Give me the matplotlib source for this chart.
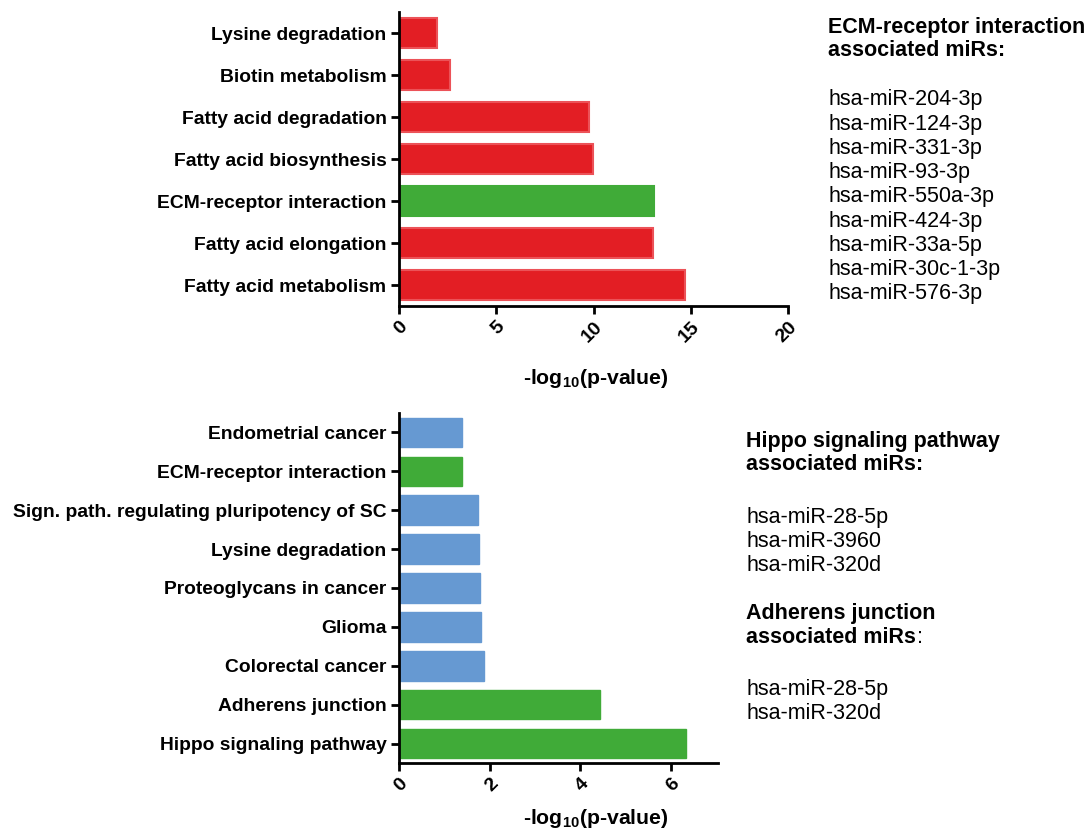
import matplotlib
matplotlib.use("Agg")
import matplotlib.pyplot as plt

plt.rcParams['font.family'] = ['Liberation Sans', 'DejaVu Sans']
plt.rcParams['mathtext.fontset'] = 'custom'
plt.rcParams['mathtext.rm'] = 'Liberation Sans:bold'
plt.rcParams['mathtext.bf'] = 'Liberation Sans:bold'
plt.rcParams['mathtext.it'] = 'Liberation Sans:bold'

RED = '#E31E24'
RED_EDGE = '#EC5258'
GREEN = '#40AB38'
BLUE = '#6699D2'

# Top panel (listed top to bottom)
top_categories = ["Lysine degradation", "Biotin metabolism", "Fatty acid degradation",
                  "Fatty acid biosynthesis", "ECM-receptor interaction",
                  "Fatty acid elongation", "Fatty acid metabolism"]
top_values = [1.93, 2.61, 9.75, 9.99, 13.1, 13.08, 14.68]
top_groups = ["other", "other", "other", "other", "ecm", "other", "other"]

# Bottom panel (listed top to bottom)
bot_categories = ["Endometrial cancer", "ECM-receptor interaction",
                  "Sign. path. regulating pluripotency of SC", "Lysine degradation",
                  "Proteoglycans in cancer", "Glioma", "Colorectal cancer",
                  "Adherens junction", "Hippo signaling pathway"]
bot_values = [1.39, 1.39, 1.75, 1.76, 1.78, 1.81, 1.87, 4.43, 6.33]
bot_groups = ["other", "hl", "other", "other", "other", "other", "other", "hl", "hl"]

top_xticks = [0, 5, 10, 15, 20]
bot_xticks = [0, 2, 4, 6]

ecm_mirs = ["hsa-miR-204-3p", "hsa-miR-124-3p", "hsa-miR-331-3p", "hsa-miR-93-3p",
            "hsa-miR-550a-3p", "hsa-miR-424-3p", "hsa-miR-33a-5p", "hsa-miR-30c-1-3p",
            "hsa-miR-576-3p"]
hippo_mirs = ["hsa-miR-28-5p", "hsa-miR-3960", "hsa-miR-320d"]
adherens_mirs = ["hsa-miR-28-5p", "hsa-miR-320d"]

W, H = 1091, 834
fig = plt.figure(figsize=(W / 100, H / 100), dpi=100)


def style_axes(ax, cats, xticks, xlim, label_xy):
    n = len(cats)
    ax.set_ylim(n - 0.5, -0.5)
    ax.set_xlim(*xlim)
    ax.set_yticks(range(n))
    ax.set_yticklabels(cats, fontweight='bold', fontsize=13.9)
    ax.set_xticks(xticks)
    ax.set_xticklabels([str(t) for t in xticks], fontweight='bold', fontsize=14,
                       rotation=45, ha='right', va='top', rotation_mode='anchor')
    for s in ['top', 'right']:
        ax.spines[s].set_visible(False)
    for s in ['left', 'bottom']:
        ax.spines[s].set_linewidth(2)
        ax.spines[s].set_color('black')
    ax.tick_params(axis='both', width=2, length=6, direction='out', pad=3)
    ax.set_xlabel(r'-log$_{\mathbf{10}}$(p-value)', fontweight='bold', fontsize=15.3)
    ax.xaxis.set_label_coords(*label_xy)
    ax.xaxis.label.set_va('center')


ax1 = fig.add_axes([399 / W, 1 - 306 / H, 389 / W, (306 - 12) / H])
cols1 = [GREEN if g == 'ecm' else RED for g in top_groups]
edges1 = [GREEN if g == 'ecm' else RED_EDGE for g in top_groups]
ax1.barh(range(len(top_categories)), top_values, height=0.72, color=cols1,
         edgecolor=edges1, linewidth=1.5)
style_axes(ax1, top_categories, top_xticks, (0, 20),
           ((596 - 399) / 389, (306 - 378) / 294))

ax2 = fig.add_axes([399 / W, 1 - 763 / H, 318.7 / W, (763 - 413) / H])
cols2 = [GREEN if g == 'hl' else BLUE for g in bot_groups]
ax2.barh(range(len(bot_categories)), bot_values, height=0.76, color=cols2,
         edgecolor=cols2, linewidth=1.0)
style_axes(ax2, bot_categories, bot_xticks, (0, 7.04),
           ((596 - 399) / 318.7, (763 - 818) / 350))

FS = 15.5
LS = 24.2


def px(x, y):
    return x / W, 1 - y / H


# Top right annotation
fig.text(*px(828, 27), "ECM-receptor interaction", fontweight='bold', fontsize=FS,
         va='center', ha='left')
fig.text(*px(828, 51), "associated miRs:", fontweight='bold', fontsize=FS,
         va='center', ha='left')
for i, m in enumerate(ecm_mirs):
    fig.text(*px(828, 100 + i * LS), m, fontsize=FS, va='center', ha='left')

# Bottom right annotation
fig.text(*px(746, 441), "Hippo signaling pathway", fontweight='bold', fontsize=FS,
         va='center', ha='left')
fig.text(*px(746, 465), "associated miRs:", fontweight='bold', fontsize=FS,
         va='center', ha='left')
for i, m in enumerate(hippo_mirs):
    fig.text(*px(746, 517 + i * LS), m, fontsize=FS, va='center', ha='left')

fig.text(*px(746, 613), "Adherens junction", fontweight='bold', fontsize=FS,
         va='center', ha='left')
t = fig.text(*px(746, 643), "associated miRs", fontweight='bold', fontsize=FS,
             va='baseline', ha='left')
plt.annotate(":", xy=(1, 0), xycoords=t, xytext=(0.5, 0), textcoords='offset points',
             fontsize=FS, va='bottom', ha='left')
for i, m in enumerate(adherens_mirs):
    fig.text(*px(746, 689 + i * LS), m, fontsize=FS, va='center', ha='left')

fig.savefig("out.png", dpi=100, facecolor='white')
